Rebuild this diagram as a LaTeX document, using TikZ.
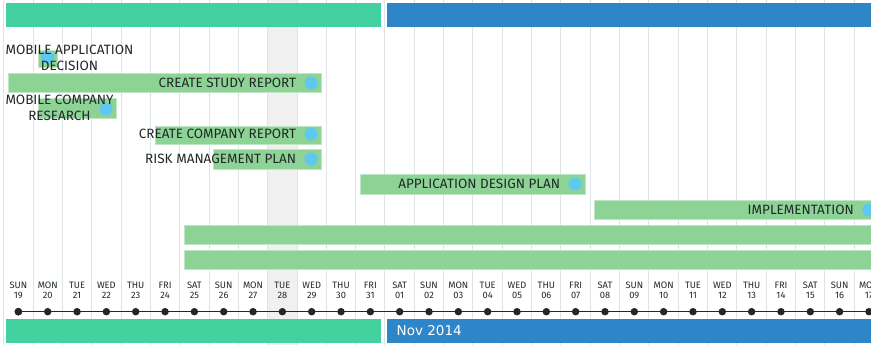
\documentclass[tikz,border=0pt]{standalone}
\usepackage{fontspec}
\setmainfont{Fira Sans}
\newfontfamily\monthfont{DejaVu Sans}
\usetikzlibrary{positioning}

\definecolor{monthteal}{HTML}{43D19F}
\definecolor{monthblue}{HTML}{2E86C8}
\definecolor{bargreen}{HTML}{8DD396}
\definecolor{dotblue}{HTML}{5EC8F0}
\definecolor{gridline}{HTML}{DCE4E8}
\definecolor{todayshade}{HTML}{F0F0F0}
\definecolor{ink}{HTML}{222829}

\tikzset{
  taskbar/.style={fill=bargreen, draw=bargreen!55!white, line width=0.8pt,
    minimum height=19pt, inner sep=0pt, anchor=west},
  enddot/.style={circle, fill=dotblue, minimum size=13pt, inner sep=0pt},
  tasklabel/.style={font=\fontsize{13.5}{15.7}\selectfont, text=ink, inner sep=0pt, align=center},
  daylabel/.style={font=\fontsize{9.3}{10}\selectfont, text=ink, inner sep=0pt, align=center},
  daytick/.style={circle, fill=ink, minimum size=7.5pt, inner sep=0pt},
}

\begin{document}
\begin{tikzpicture}[x=1pt,y=-1pt]
  \useasboundingbox (0,0) rectangle (871,345);
  \clip (0,0) rectangle (871,345);
  \fill[white] (0,0) rectangle (871,345);

  % today column and day grid
  \fill[todayshade] (267.7,0) rectangle (297,345);
  \foreach \i in {0,...,30}
    \draw[gridline, line width=1pt] (3.7+29.33*\i,0) -- (3.7+29.33*\i,345);

  % month bars
  \fill[monthteal] (6,3) rectangle (381,27);
  \fill[monthblue] (387,3) rectangle (871,27);
  \fill[monthteal] (6,319) rectangle (381,343);
  \fill[monthblue] (387,319) rectangle (871,343);
  \node[font=\monthfont\fontsize{13.5}{16}\selectfont, text=white, anchor=west, inner sep=0pt] (nov) at (396.5,331) {Nov 2014};

  % tasks
  \node[taskbar, minimum width=19pt, minimum height=17pt] (appbar) at (38,58.5) {};
  \node[enddot] (appdot) at (47.7,57.3) {};
  \node[tasklabel] (apptxt) at (69.5,58) {MOBILE APPLICATION\\DECISION};

  \node[taskbar, minimum width=313pt] (studybar) at (8,83) {};
  \node[enddot] (studydot) at (311,83) {};
  \node[tasklabel, left=8pt of studydot] (studytxt) {CREATE STUDY REPORT};

  \node[taskbar, minimum width=78pt, minimum height=20pt] (researchbar) at (37.7,108.3) {};
  \node[enddot] (researchdot) at (106,109) {};
  \node[tasklabel] (researchtxt) at (59.5,108) {MOBILE COMPANY\\RESEARCH};

  \node[taskbar, minimum width=166pt, minimum height=18pt] (companybar) at (155,135) {};
  \node[enddot] (companydot) at (311,134) {};
  \node[tasklabel, left=8pt of companydot] (companytxt) {CREATE COMPANY REPORT};

  \node[taskbar, minimum width=108pt, minimum height=20pt] (riskbar) at (213,159) {};
  \node[enddot] (riskdot) at (311,159) {};
  \node[tasklabel, left=8pt of riskdot] (risktxt) {RISK MANAGEMENT PLAN};

  \node[taskbar, minimum width=225pt, minimum height=20pt] (designbar) at (360,184.3) {};
  \node[enddot] (designdot) at (575,184) {};
  \node[tasklabel, left=8pt of designdot] (designtxt) {APPLICATION DESIGN PLAN};

  \node[taskbar, minimum width=290pt] (implbar) at (594.3,209.7) {};
  \node[enddot] (impldot) at (868.7,210) {};
  \node[tasklabel, left=8pt of impldot] (impltxt) {IMPLEMENTATION};

  \node[taskbar, minimum width=700pt] (restbar) at (184,235) {};
  \node[taskbar, minimum width=700pt] (lastbar) at (184,260) {};

  % timeline
  \coordinate (lineend) at (880,311.7);
  \node[daytick] (tick0) at (18.4,311.7) {};
  \draw[ink, line width=1.4pt] (tick0.center) -- (lineend);
  \foreach \d/\n [count=\i from 0] in {SUN/19,MON/20,TUE/21,WED/22,THU/23,FRI/24,SAT/25,
      SUN/26,MON/27,TUE/28,WED/29,THU/30,FRI/31,SAT/01,SUN/02,MON/03,TUE/04,WED/05,
      THU/06,FRI/07,SAT/08,SUN/09,MON/10,TUE/11,WED/12,THU/13,FRI/14,SAT/15,SUN/16,MON/17}
  {
    \node[daytick] (tick\i) at (18.4+29.33*\i,311.7) {};
    \node[daylabel, above=9pt of tick\i] (day\i) {\d\\\n};
  }
\end{tikzpicture}
\end{document}
